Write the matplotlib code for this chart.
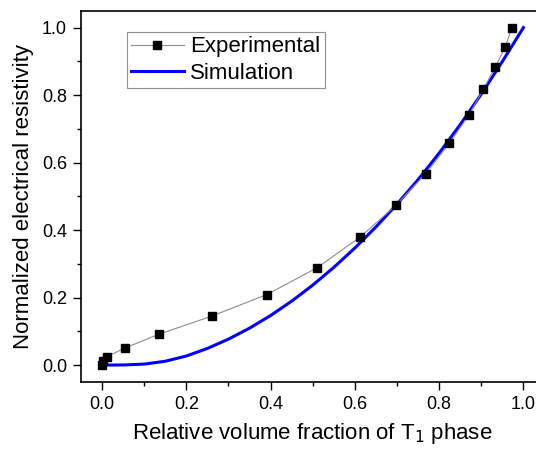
import numpy as np
import matplotlib
matplotlib.use('Agg')
import matplotlib.pyplot as plt
from matplotlib.ticker import MultipleLocator

plt.rcParams['font.family'] = ['Liberation Sans', 'DejaVu Sans']

# Experimental points
exp_x = [0.000, 0.002, 0.011, 0.055, 0.136, 0.260, 0.391, 0.511, 0.613,
         0.697, 0.768, 0.824, 0.871, 0.905, 0.933, 0.957, 0.972]
exp_y = [0.000, 0.012, 0.025, 0.051, 0.092, 0.145, 0.209, 0.289, 0.380,
         0.473, 0.567, 0.657, 0.742, 0.817, 0.883, 0.942, 0.999]

# Simulation curve
sim_x = [0.00, 0.05, 0.10, 0.15, 0.20, 0.25, 0.30, 0.35, 0.40, 0.45, 0.50,
         0.55, 0.60, 0.65, 0.70, 0.75, 0.80, 0.85, 0.90, 0.95, 1.00]
sim_y = [0.000, 0.0005, 0.003, 0.0115, 0.027, 0.0495, 0.077, 0.1095, 0.147, 0.1895, 0.237,
         0.2895, 0.347, 0.4095, 0.477, 0.5495, 0.628, 0.7125, 0.803, 0.8995, 1.000]

fig = plt.figure(figsize=(5.36, 4.5), dpi=100)
ax = fig.add_axes([81 / 536, 68 / 450, 463.5 / 536, 371.3 / 450])

ax.plot(exp_x, exp_y, color='#8c8c8c', lw=0.8, marker='s', markersize=5.5,
        markerfacecolor='black', markeredgecolor='black', label='Experimental', zorder=3)
ax.plot(sim_x, sim_y, color='#0000ff', lw=2.2, label='Simulation', zorder=2)

ax.set_xlim(-0.05, 1.05)
ax.set_ylim(-0.05, 1.05)
ax.xaxis.set_major_locator(MultipleLocator(0.2))
ax.xaxis.set_minor_locator(MultipleLocator(0.1))
ax.yaxis.set_major_locator(MultipleLocator(0.2))
ax.yaxis.set_minor_locator(MultipleLocator(0.1))
ax.tick_params(which='both', direction='out', top=False, right=False, width=1.0, labelsize=13)
ax.tick_params(which='major', length=5.5, pad=4.5)
ax.tick_params(which='minor', length=3)
for s in ax.spines.values():
    s.set_linewidth(1.2)

ax.set_xlabel('Relative volume fraction of T$_1$ phase', fontsize=16, labelpad=6)
ax.set_ylabel('Normalized electrical resistivity', fontsize=16, labelpad=6)

leg = ax.legend(loc='upper left', bbox_to_anchor=(0.099, 0.943), borderaxespad=0,
                fontsize=16, handlelength=2.35, handletextpad=0.3, labelspacing=0.25,
                borderpad=0.2, fancybox=False, framealpha=1, edgecolor='#909090')
leg.get_frame().set_linewidth(0.8)

fig.savefig('out.png', dpi=100)
